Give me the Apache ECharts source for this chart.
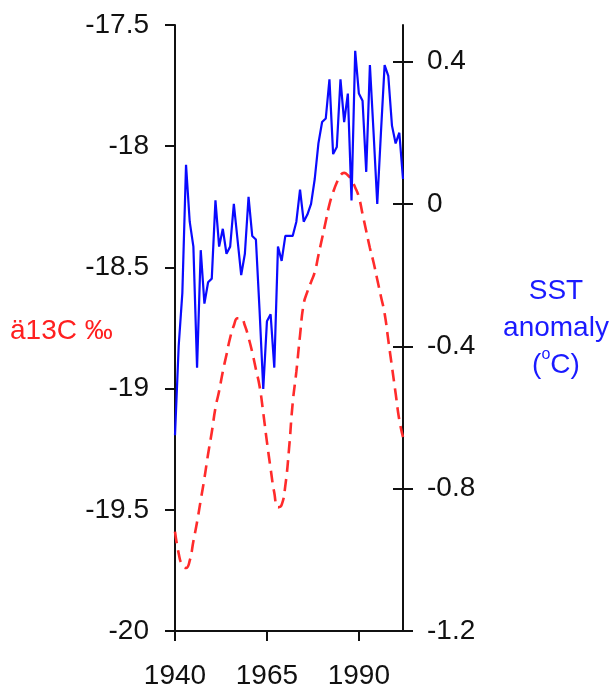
<!DOCTYPE html>
<html>
<head>
<meta charset="utf-8">
<script src="https://cdn.jsdelivr.net/npm/echarts@6/dist/echarts.min.js"></script>
<style>html,body{margin:0;padding:0;background:#fff}#c{width:609px;height:690px}</style>
</head>
<body>
<div id="c"></div>
<script>
const years = [];
for (let y = 1940; y <= 2002; y++) years.push(y);

const sstValues = [
  -0.65, -0.40, -0.25, 0.11, -0.05, -0.12, -0.46, -0.13, -0.28, -0.22,
  -0.21, 0.01, -0.12, -0.07, -0.14, -0.12, 0.00, -0.10, -0.20, -0.14,
  0.02, -0.09, -0.10, -0.30, -0.52, -0.33, -0.31, -0.46, -0.12, -0.16,
  -0.09, -0.09, -0.09, -0.05, 0.04, -0.05, -0.03, 0.00, 0.07, 0.17,
  0.23, 0.24, 0.35, 0.14, 0.16, 0.35, 0.23, 0.31, 0.01, 0.43,
  0.31, 0.29, 0.09, 0.39, 0.20, 0.00, 0.20, 0.39, 0.36, 0.22,
  0.17, 0.20, 0.07
];

const d13cValues = [
  -19.59, -19.68, -19.73, -19.74, -19.71, -19.63, -19.55, -19.46, -19.37, -19.27,
  -19.18, -19.08, -19.01, -18.93, -18.86, -18.79, -18.74, -18.71, -18.71, -18.74,
  -18.79, -18.85, -18.92, -18.99, -19.10, -19.22, -19.33, -19.43, -19.49, -19.48,
  -19.40, -19.25, -19.06, -18.93, -18.78, -18.65, -18.60, -18.56, -18.52, -18.45,
  -18.38, -18.31, -18.24, -18.19, -18.15, -18.12, -18.11, -18.12, -18.14, -18.17,
  -18.21, -18.28, -18.35, -18.42, -18.48, -18.55, -18.62, -18.69, -18.80, -18.91,
  -19.02, -19.13, -19.20
];

const xTicks = [1940, 1965, 1990];
const leftTicks = [-20, -19.5, -19, -18.5, -18, -17.5];
const rightTicks = [-1.2, -0.8, -0.4, 0, 0.4];

const FONT = 'Liberation Sans, Arial, sans-serif';
const FS = 28;
const LINE = {color: '#111', width: 2};

const chart = echarts.init(document.getElementById('c'), null, {renderer: 'canvas'});
chart.setOption({
  animation: false,
  backgroundColor: '#fff',
  grid: {left: 175, right: 206, top: 25, bottom: 56, containLabel: false},
  xAxis: {
    type: 'value', min: 1940, max: 2002,
    axisLine: {show: true, onZero: false, lineStyle: LINE},
    axisTick: {show: true, length: 10, lineStyle: LINE, customValues: xTicks},
    axisLabel: {customValues: xTicks, fontSize: FS, fontFamily: FONT, color: '#111', margin: 31, formatter: v => String(v)},
    splitLine: {show: false}
  },
  yAxis: [
    {
      type: 'value', position: 'left', min: -20, max: -17.5, interval: 0.5,
      axisLine: {show: true, onZero: false, lineStyle: LINE},
      axisTick: {show: true, length: 10, customValues: leftTicks, lineStyle: LINE},
      axisLabel: {customValues: leftTicks, fontSize: FS, fontFamily: FONT, color: '#111', margin: 26, formatter: v => String(v)},
      splitLine: {show: false}
    },
    {
      type: 'value', position: 'right', min: -1.2, max: 0.5027,
      axisLine: {show: true, onZero: false, lineStyle: LINE},
      axisTick: {show: true, length: 10, customValues: rightTicks, lineStyle: LINE},
      axisLabel: {customValues: rightTicks, fontSize: FS, fontFamily: FONT, color: '#111', margin: 24, formatter: v => String(Math.round(v * 10) / 10)},
      splitLine: {show: false}
    },
    {
      type: 'value', position: 'right', min: -1.2, max: 0.5027,
      axisLine: {show: false, onZero: false},
      axisTick: {show: true, inside: true, length: 10, customValues: rightTicks, lineStyle: LINE},
      axisLabel: {show: false},
      splitLine: {show: false}
    }
  ],
  series: [
    {
      type: 'line', yAxisIndex: 0, smooth: 0.5, symbol: 'none', clip: false,
      data: years.map((y, i) => [y, d13cValues[i]]),
      lineStyle: {color: '#ff2b2b', width: 2.6, type: [12, 7]},
      z: 2
    },
    {
      type: 'line', yAxisIndex: 1, smooth: false, symbol: 'none', clip: false,
      data: years.map((y, i) => [y, sstValues[i]]),
      lineStyle: {color: '#0a0aff', width: 2.2},
      z: 3
    }
  ],
  graphic: [
    {type: 'text', left: 10, top: 317, style: {text: 'ä13C ‰', fill: '#ff2020', font: FS + 'px ' + FONT}},
    {type: 'text', x: 556, y: 273, style: {
      text: 'SST\nanomaly\n({s|o}C)', fill: '#1a1aff', font: FS + 'px ' + FONT,
      align: 'center', lineHeight: 37,
      rich: {s: {fontSize: 16, fontFamily: FONT, verticalAlign: 'top', fill: '#1a1aff', lineHeight: 37}}
    }}
  ]
});
</script>
</body>
</html>
